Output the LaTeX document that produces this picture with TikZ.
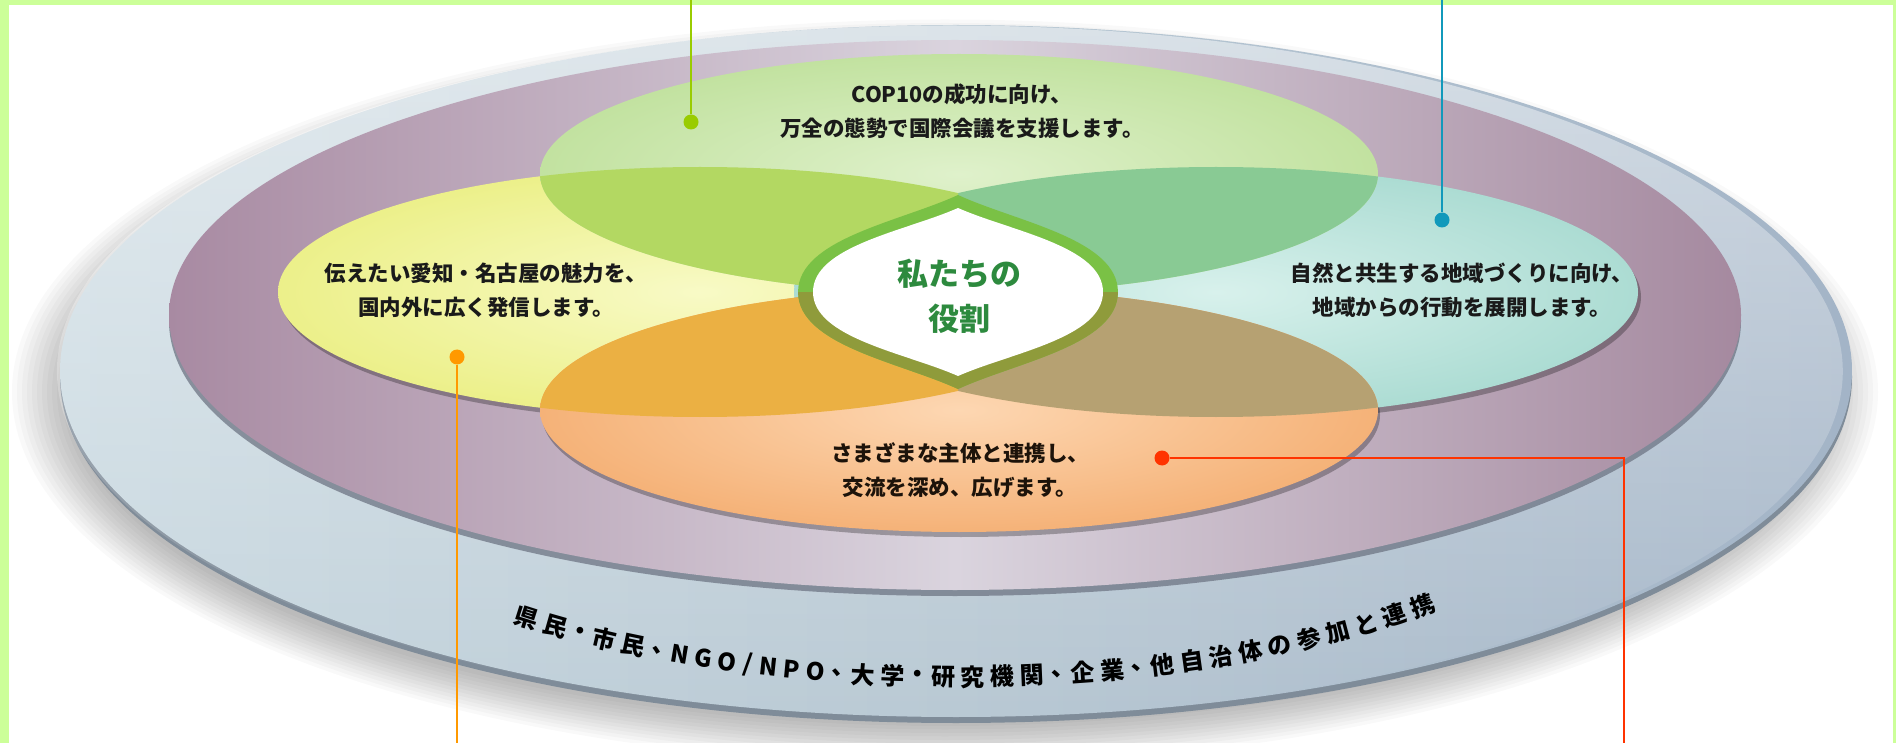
\documentclass[tikz,border=0pt]{standalone}
\usepackage{fontspec}
\setmainfont{Noto Sans CJK JP}
\newfontfamily\halffont{Noto Sans CJK JP}[RawFeature=+halt]
\usetikzlibrary{decorations.markings,fadings}
\definecolor{framegreen}{HTML}{CCFF99}
\definecolor{blueL}{HTML}{C8D8E0}
\definecolor{blueM}{HTML}{B9C9D4}
\definecolor{blueR}{HTML}{A3B4C7}
\definecolor{bluerim}{HTML}{7F8C99}
\definecolor{purL}{HTML}{A88AA2}
\definecolor{purM}{HTML}{DAD4DE}
\definecolor{purR}{HTML}{A5899F}
\definecolor{purrim}{HTML}{6E7584}
\definecolor{yelI}{HTML}{F8FAC6}
\definecolor{yelO}{HTML}{ECF08A}
\definecolor{cyaI}{HTML}{D8F1EC}
\definecolor{cyaO}{HTML}{ACDCD3}
\definecolor{greI}{HTML}{DFF1CB}
\definecolor{greO}{HTML}{C2E2A0}
\definecolor{oraI}{HTML}{FDD7B2}
\definecolor{oraO}{HTML}{F5B278}
\definecolor{gyC}{HTML}{B3D862}
\definecolor{gcC}{HTML}{89CA94}
\definecolor{oyC}{HTML}{EBB043}
\definecolor{ocC}{HTML}{B6A172}
\definecolor{ringG}{HTML}{7AC145}
\definecolor{ringO}{HTML}{8F9B3B}
\definecolor{roleG}{HTML}{2D8A3E}
\definecolor{lineGreen}{HTML}{99CC00}
\definecolor{lineCyan}{HTML}{1199BB}
\definecolor{lineOrange}{HTML}{FF9900}
\definecolor{lineRed}{HTML}{FF3300}
\definecolor{txt}{HTML}{1A1A1A}
\newcommand\rdot{{\halffont\bfseries ・}}
\newcommand\rcomma{{\halffont\bfseries 、}}
\tikzset{
  petaltext/.style={font=\fontsize{21.5}{34}\selectfont\bfseries, align=center, text=txt, inner sep=0pt},
  roletext/.style={font=\fontsize{31}{45}\selectfont\bfseries, align=center, text=roleG, inner sep=0pt},
  ringtext/.style={font=\fontsize{24}{24}\selectfont\bfseries, text=black, inner sep=0pt},
  calldot/.style={circle, minimum size=15pt, inner sep=0pt, fill=#1},
  callline/.style={line width=2.6pt, draw=#1}
}
\begin{document}
\begin{tikzpicture}[x=1pt,y=-1pt]
\useasboundingbox (0,0) rectangle (1896,743);
\fill[white] (0,0) rectangle (1896,743);
% soft shadow of the base disc
\foreach \k in {0,...,11}
  \fill[black,opacity=0.022] (945,392) ellipse [x radius=878+5*\k, y radius=334+3.5*\k];
% base (blue) disc
\fill[bluerim] (956,377) ellipse [x radius=896, y radius=346];
\shade[left color=blueL, right color=blueR, middle color=blueM] (956,371) ellipse [x radius=896, y radius=346];
\fill[white, path fading=south, fill opacity=0.5] (956,371) ellipse [x radius=896, y radius=346];
% purple disc
\fill[purrim,opacity=0.75] (955,321) ellipse [x radius=786, y radius=275];
\shade[left color=purL, right color=purR, middle color=purM] (955,315) ellipse [x radius=786, y radius=275];
% petal shadows
\fill[black,opacity=0.28] (703,297) ellipse [x radius=422, y radius=125];
\fill[black,opacity=0.28] (1219,297) ellipse [x radius=422, y radius=125];
\fill[black,opacity=0.28] (961,415) ellipse [x radius=419, y radius=122];
% petals
\shade[inner color=yelI, outer color=yelO] (700,292) ellipse [x radius=422, y radius=125];
\shade[inner color=cyaI, outer color=cyaO] (1216,292) ellipse [x radius=422, y radius=125];
\shade[inner color=greI, outer color=greO] (959,174) ellipse [x radius=419, y radius=120];
\shade[inner color=oraI, outer color=oraO] (959,410) ellipse [x radius=419, y radius=122];
% overlaps
\begin{scope}
  \clip (959,174) ellipse [x radius=419, y radius=120];
  \fill[gcC] (1216,292) ellipse [x radius=422, y radius=125];
\end{scope}
\begin{scope}
  \clip (959,174) ellipse [x radius=419, y radius=120];
  \clip (0,0) rectangle (958,743);
  \fill[gyC] (700,292) ellipse [x radius=422, y radius=125];
\end{scope}
\begin{scope}
  \clip (959,410) ellipse [x radius=419, y radius=122];
  \fill[ocC] (1216,292) ellipse [x radius=422, y radius=125];
\end{scope}
\begin{scope}
  \clip (959,410) ellipse [x radius=419, y radius=122];
  \clip (0,0) rectangle (958,743);
  \fill[oyC] (700,292) ellipse [x radius=422, y radius=125];
\end{scope}
% central leaf: ring
\begin{scope}[shift={(958,292)}, xscale=1.103, yscale=1.155]
  \fill[ringG] (0,-84) .. controls (-52,-61) and (-145,-46) .. (-145,0) .. controls (-145,46) and (-52,61) .. (0,84) .. controls (52,61) and (145,46) .. (145,0) .. controls (145,-46) and (52,-61) .. (0,-84) -- cycle;
\end{scope}
\begin{scope}
  \clip (700,293) rectangle (1220,420);
  \begin{scope}[shift={(958,292)}, xscale=1.103, yscale=1.155]
    \fill[ringO] (0,-84) .. controls (-52,-61) and (-145,-46) .. (-145,0) .. controls (-145,46) and (-52,61) .. (0,84) .. controls (52,61) and (145,46) .. (145,0) .. controls (145,-46) and (52,-61) .. (0,-84) -- cycle;
  \end{scope}
\end{scope}
\begin{scope}[shift={(958,292)}]
  \fill[white] (0,-84) .. controls (-52,-61) and (-145,-46) .. (-145,0) .. controls (-145,46) and (-52,61) .. (0,84) .. controls (52,61) and (145,46) .. (145,0) .. controls (145,-46) and (52,-61) .. (0,-84) -- cycle;
\end{scope}
% texts
\node[roletext] (role) at (959,296) {私たちの\\役割};
\node[petaltext] (tgreen) at (962,111) {COP10の成功に向け、\\万全の態勢で国際会議を支援します。};
\node[petaltext] (tyellow) at (486,290) {伝えたい愛知・名古屋の魅力を、\\国内外に広く発信します。};
\node[petaltext] (tcyan) at (1462,290) {自然と共生する地域づくりに向け、\\地域からの行動を展開します。};
\node[petaltext, text=black!85!brown] (torange) at (960,470) {さまざまな主体と連携し、\\交流を深め、広げます。};
% curved text on the base ring
\foreach \p/\ch in {56.0/県,85.7/民,110.9/\rdot,136.2/市,165.9/民,191.1/\rcomma,213.4/N,237.2/G,260.9/O,281.7/{/},302.5/N,326.3/P,350.0/O,372.3/\rcomma,397.6/大,427.3/学,452.5/\rdot,477.7/研,507.4/究,537.1/機,566.8/関,592.1/\rcomma,617.3/企,647.0/業,672.3/\rcomma,697.5/他,727.2/自,756.9/治,786.6/体,816.3/の,846.0/参,875.7/加,905.4/と,935.1/連,964.8/携}
{
  \path[decoration={markings, mark=at position \p pt with {\node[ringtext, transform shape] {\ch};}}, decorate]
    (957,432) ++(137:660 and 245) arc[start angle=137, end angle=43, x radius=660, y radius=245];
}
% frame
\fill[framegreen] (0,0) rectangle (1896,5);
\fill[framegreen] (0,0) rectangle (9,743);
\fill[framegreen] (1893,0) rectangle (1896,743);
% callouts
\coordinate (gtop) at (691,0);
\node[calldot=lineGreen] (gdot) at (691,122) {};
\draw[callline=lineGreen] (gtop) -- (gdot);
\coordinate (ctop) at (1442,0);
\node[calldot=lineCyan] (cdot) at (1442,220) {};
\draw[callline=lineCyan] (ctop) -- (cdot);
\node[calldot=lineOrange] (odot) at (457,357) {};
\coordinate (obot) at (457,743);
\draw[callline=lineOrange] (odot) -- (obot);
\node[calldot=lineRed] (rdot) at (1162,458) {};
\coordinate (rcorner) at (1624,458);
\coordinate (rbot) at (1624,743);
\draw[callline=lineRed] (rdot) -- (rcorner) -- (rbot);
\end{tikzpicture}
\end{document}
